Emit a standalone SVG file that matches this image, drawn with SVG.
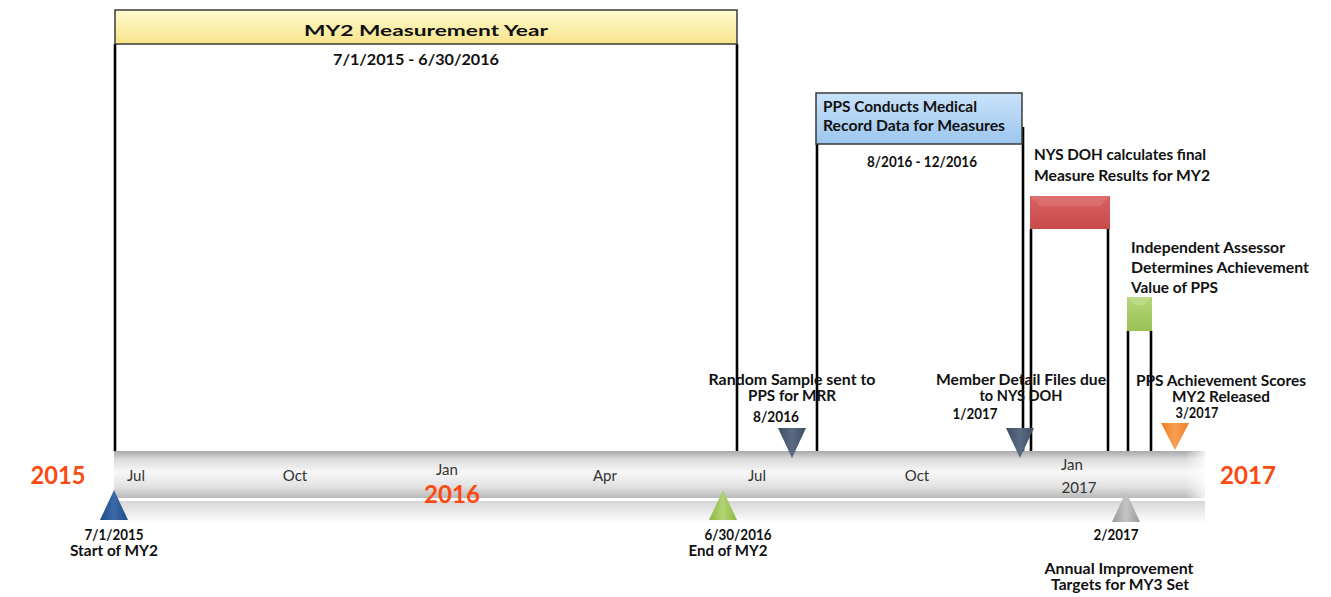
<svg xmlns="http://www.w3.org/2000/svg" width="1331" height="597" viewBox="0 0 1331 597">
<defs>
<linearGradient id="bar" x1="0" y1="0" x2="0" y2="1">
<stop offset="0" stop-color="#a9a9a9"/>
<stop offset="0.18" stop-color="#dcdcdc"/>
<stop offset="0.45" stop-color="#f7f7f7"/>
<stop offset="0.75" stop-color="#e2e2e2"/>
<stop offset="1" stop-color="#b9b9b9"/>
</linearGradient>
<linearGradient id="refl" x1="0" y1="0" x2="0" y2="1">
<stop offset="0" stop-color="#d6d6d6"/>
<stop offset="1" stop-color="#ffffff"/>
</linearGradient>
<linearGradient id="endcap" x1="0" y1="0" x2="1" y2="0">
<stop offset="0" stop-color="#ffffff" stop-opacity="0"/>
<stop offset="1" stop-color="#ffffff" stop-opacity="0.8"/>
</linearGradient>
<linearGradient id="yel" x1="0" y1="0" x2="0" y2="1">
<stop offset="0" stop-color="#fffbd0"/>
<stop offset="1" stop-color="#f7e38a"/>
</linearGradient>
<linearGradient id="blu" x1="0" y1="0" x2="0" y2="1">
<stop offset="0" stop-color="#c9e2fa"/>
<stop offset="1" stop-color="#9cc6ee"/>
</linearGradient>
<linearGradient id="red" x1="0" y1="0" x2="0" y2="1">
<stop offset="0" stop-color="#d86262"/>
<stop offset="1" stop-color="#c94a4a"/>
</linearGradient>
<linearGradient id="grn" x1="0" y1="0" x2="0" y2="1">
<stop offset="0" stop-color="#b4d679"/>
<stop offset="1" stop-color="#98c155"/>
</linearGradient>
<linearGradient id="tdark" x1="0" y1="0" x2="1" y2="0">
<stop offset="0" stop-color="#3e4d63"/>
<stop offset="0.5" stop-color="#5a6b83"/>
<stop offset="1" stop-color="#3e4d63"/>
</linearGradient>
<linearGradient id="torg" x1="0" y1="0" x2="1" y2="0">
<stop offset="0" stop-color="#f07d22"/>
<stop offset="0.5" stop-color="#f7a052"/>
<stop offset="1" stop-color="#f07d22"/>
</linearGradient>
<linearGradient id="tgry" x1="0" y1="0" x2="1" y2="0">
<stop offset="0" stop-color="#9a9a9a"/>
<stop offset="0.5" stop-color="#c4c4c4"/>
<stop offset="1" stop-color="#9a9a9a"/>
</linearGradient>
<linearGradient id="tblu" x1="0" y1="0" x2="1" y2="0">
<stop offset="0" stop-color="#1f4c86"/>
<stop offset="0.5" stop-color="#3a6aa8"/>
<stop offset="1" stop-color="#1f4c86"/>
</linearGradient>
<linearGradient id="tgrn" x1="0" y1="0" x2="1" y2="0">
<stop offset="0" stop-color="#8cb843"/>
<stop offset="0.5" stop-color="#b2d475"/>
<stop offset="1" stop-color="#8cb843"/>
</linearGradient>
<style>
.v{stroke:#000;stroke-width:2.6;fill:none}
.b{font-family:Lato,"Liberation Sans",sans-serif;font-weight:bold;font-size:15px;fill:#111}
.m{font-family:Lato,"Liberation Sans",sans-serif;font-size:15px;fill:#333}
.y{font-family:Lato,"Liberation Sans",sans-serif;font-weight:bold;font-size:25px;fill:#fb4a12}
.bx{stroke:#3a3a3a;stroke-width:1.5}
</style>
</defs>
<rect width="1331" height="597" fill="#fff"/>

<g id="timeline">
<rect x="114" y="501" width="1091" height="22" fill="url(#refl)"/>
<rect x="114" y="451" width="1091" height="47" fill="url(#bar)"/>
<rect x="1185" y="451" width="20" height="47" fill="url(#endcap)"/>
<text class="m" x="136" y="481" text-anchor="middle">Jul</text>
<text class="m" x="295" y="481" text-anchor="middle">Oct</text>
<text class="m" x="447" y="475" text-anchor="middle">Jan</text>
<text class="m" x="605" y="481" text-anchor="middle">Apr</text>
<text class="m" x="757" y="481" text-anchor="middle">Jul</text>
<text class="m" x="917" y="481" text-anchor="middle">Oct</text>
<text class="m" x="1072" y="470" text-anchor="middle">Jan</text>
<text class="m" x="1079" y="493" text-anchor="middle">2017</text>
<text class="y" x="452" y="503" text-anchor="middle" font-size="24" textLength="56" lengthAdjust="spacingAndGlyphs">2016</text>
<text class="y" x="58" y="484" text-anchor="middle" textLength="55" lengthAdjust="spacingAndGlyphs">2015</text>
<text class="y" x="1248" y="484" text-anchor="middle" textLength="56" lengthAdjust="spacingAndGlyphs">2017</text>
</g>

<g id="connectors">
<line class="v" x1="115" y1="44" x2="115" y2="451"/>
<line class="v" x1="737" y1="44" x2="737" y2="451"/>
<line class="v" x1="817" y1="144" x2="817" y2="451"/>
<line class="v" x1="1023" y1="127" x2="1023" y2="451"/>
<line class="v" x1="1031" y1="229" x2="1031" y2="451"/>
<line class="v" x1="1108" y1="229" x2="1108" y2="451"/>
<line class="v" x1="1128" y1="331" x2="1128" y2="451"/>
<line class="v" x1="1151" y1="331" x2="1151" y2="451"/>
</g>

<g id="my2-year">
<rect class="bx" x="115" y="10" width="622" height="34" fill="url(#yel)"/>
<text class="b" x="426" y="36" text-anchor="middle" font-size="21" textLength="244" lengthAdjust="spacingAndGlyphs">MY2 Measurement Year</text>
<text class="b" x="416" y="65" text-anchor="middle" textLength="166" lengthAdjust="spacingAndGlyphs">7/1/2015 - 6/30/2016</text>
</g>

<g id="pps-conducts">
<rect class="bx" x="816" y="93" width="206" height="51" fill="url(#blu)"/>
<text class="b" x="823" y="112" textLength="154" lengthAdjust="spacingAndGlyphs">PPS Conducts Medical</text>
<text class="b" x="823" y="131" textLength="182" lengthAdjust="spacingAndGlyphs">Record Data for Measures</text>
<text class="b" x="922" y="167" text-anchor="middle" textLength="110" lengthAdjust="spacingAndGlyphs">8/2016 - 12/2016</text>
</g>

<g id="nys-doh-calc">
<rect x="1030" y="196" width="80" height="33" fill="url(#red)"/>
<polygon points="1030,196 1040,206 1100,206 1110,196" fill="#e07878" opacity="0.6"/>
<text class="b" x="1034" y="160" textLength="172" lengthAdjust="spacingAndGlyphs">NYS DOH calculates final</text>
<text class="b" x="1034" y="181" textLength="176" lengthAdjust="spacingAndGlyphs">Measure Results for MY2</text>
</g>

<g id="independent-assessor">
<rect x="1127" y="297" width="25" height="34" fill="url(#grn)"/>
<polygon points="1127,297 1135,305 1144,305 1152,297" fill="#c6e092" opacity="0.6"/>
<text class="b" x="1131" y="253" textLength="154" lengthAdjust="spacingAndGlyphs">Independent Assessor</text>
<text class="b" x="1131" y="273" textLength="178" lengthAdjust="spacingAndGlyphs">Determines Achievement</text>
<text class="b" x="1131" y="293" textLength="87" lengthAdjust="spacingAndGlyphs">Value of PPS</text>
</g>

<g id="random-sample">
<polygon points="778,428 806,428 792,458" fill="url(#tdark)"/>
<text class="b" x="792" y="385" text-anchor="middle" textLength="167" lengthAdjust="spacingAndGlyphs">Random Sample sent to</text>
<text class="b" x="792" y="401" text-anchor="middle" textLength="88" lengthAdjust="spacingAndGlyphs">PPS for MRR</text>
<text class="b" x="776" y="422" text-anchor="middle" textLength="46" lengthAdjust="spacingAndGlyphs">8/2016</text>
</g>

<g id="member-detail">
<polygon points="1006,428 1034,428 1020,458" fill="url(#tdark)"/>
<text class="b" x="1021" y="385" text-anchor="middle" textLength="170" lengthAdjust="spacingAndGlyphs">Member Detail Files due</text>
<text class="b" x="1021" y="401" text-anchor="middle" textLength="83" lengthAdjust="spacingAndGlyphs">to NYS DOH</text>
<text class="b" x="975" y="419" text-anchor="middle" textLength="45" lengthAdjust="spacingAndGlyphs">1/2017</text>
</g>

<g id="achievement-scores">
<polygon points="1161,423 1189,423 1175,450" fill="url(#torg)"/>
<text class="b" x="1221" y="386" text-anchor="middle" textLength="170" lengthAdjust="spacingAndGlyphs">PPS Achievement Scores</text>
<text class="b" x="1221" y="402" text-anchor="middle" textLength="98" lengthAdjust="spacingAndGlyphs">MY2 Released</text>
<text class="b" x="1197" y="418" text-anchor="middle" textLength="43" lengthAdjust="spacingAndGlyphs">3/2017</text>
</g>

<g id="annual-targets">
<polygon points="1112,522 1140,522 1126,492" fill="url(#tgry)"/>
<text class="b" x="1116" y="540" text-anchor="middle" textLength="45" lengthAdjust="spacingAndGlyphs">2/2017</text>
<text class="b" x="1119" y="574" text-anchor="middle" textLength="149" lengthAdjust="spacingAndGlyphs">Annual Improvement</text>
<text class="b" x="1120" y="590" text-anchor="middle" textLength="138" lengthAdjust="spacingAndGlyphs">Targets for MY3 Set</text>
</g>

<g id="start-my2">
<polygon points="100,520 128,520 114,490" fill="url(#tblu)"/>
<text class="b" x="114" y="540" text-anchor="middle" textLength="59" lengthAdjust="spacingAndGlyphs">7/1/2015</text>
<text class="b" x="114" y="556" text-anchor="middle" textLength="88" lengthAdjust="spacingAndGlyphs">Start of MY2</text>
</g>

<g id="end-my2">
<polygon points="709,520 737,520 723,490" fill="url(#tgrn)"/>
<text class="b" x="738" y="540" text-anchor="middle" textLength="67" lengthAdjust="spacingAndGlyphs">6/30/2016</text>
<text class="b" x="728" y="556" text-anchor="middle" textLength="79" lengthAdjust="spacingAndGlyphs">End of MY2</text>
</g>
</svg>
